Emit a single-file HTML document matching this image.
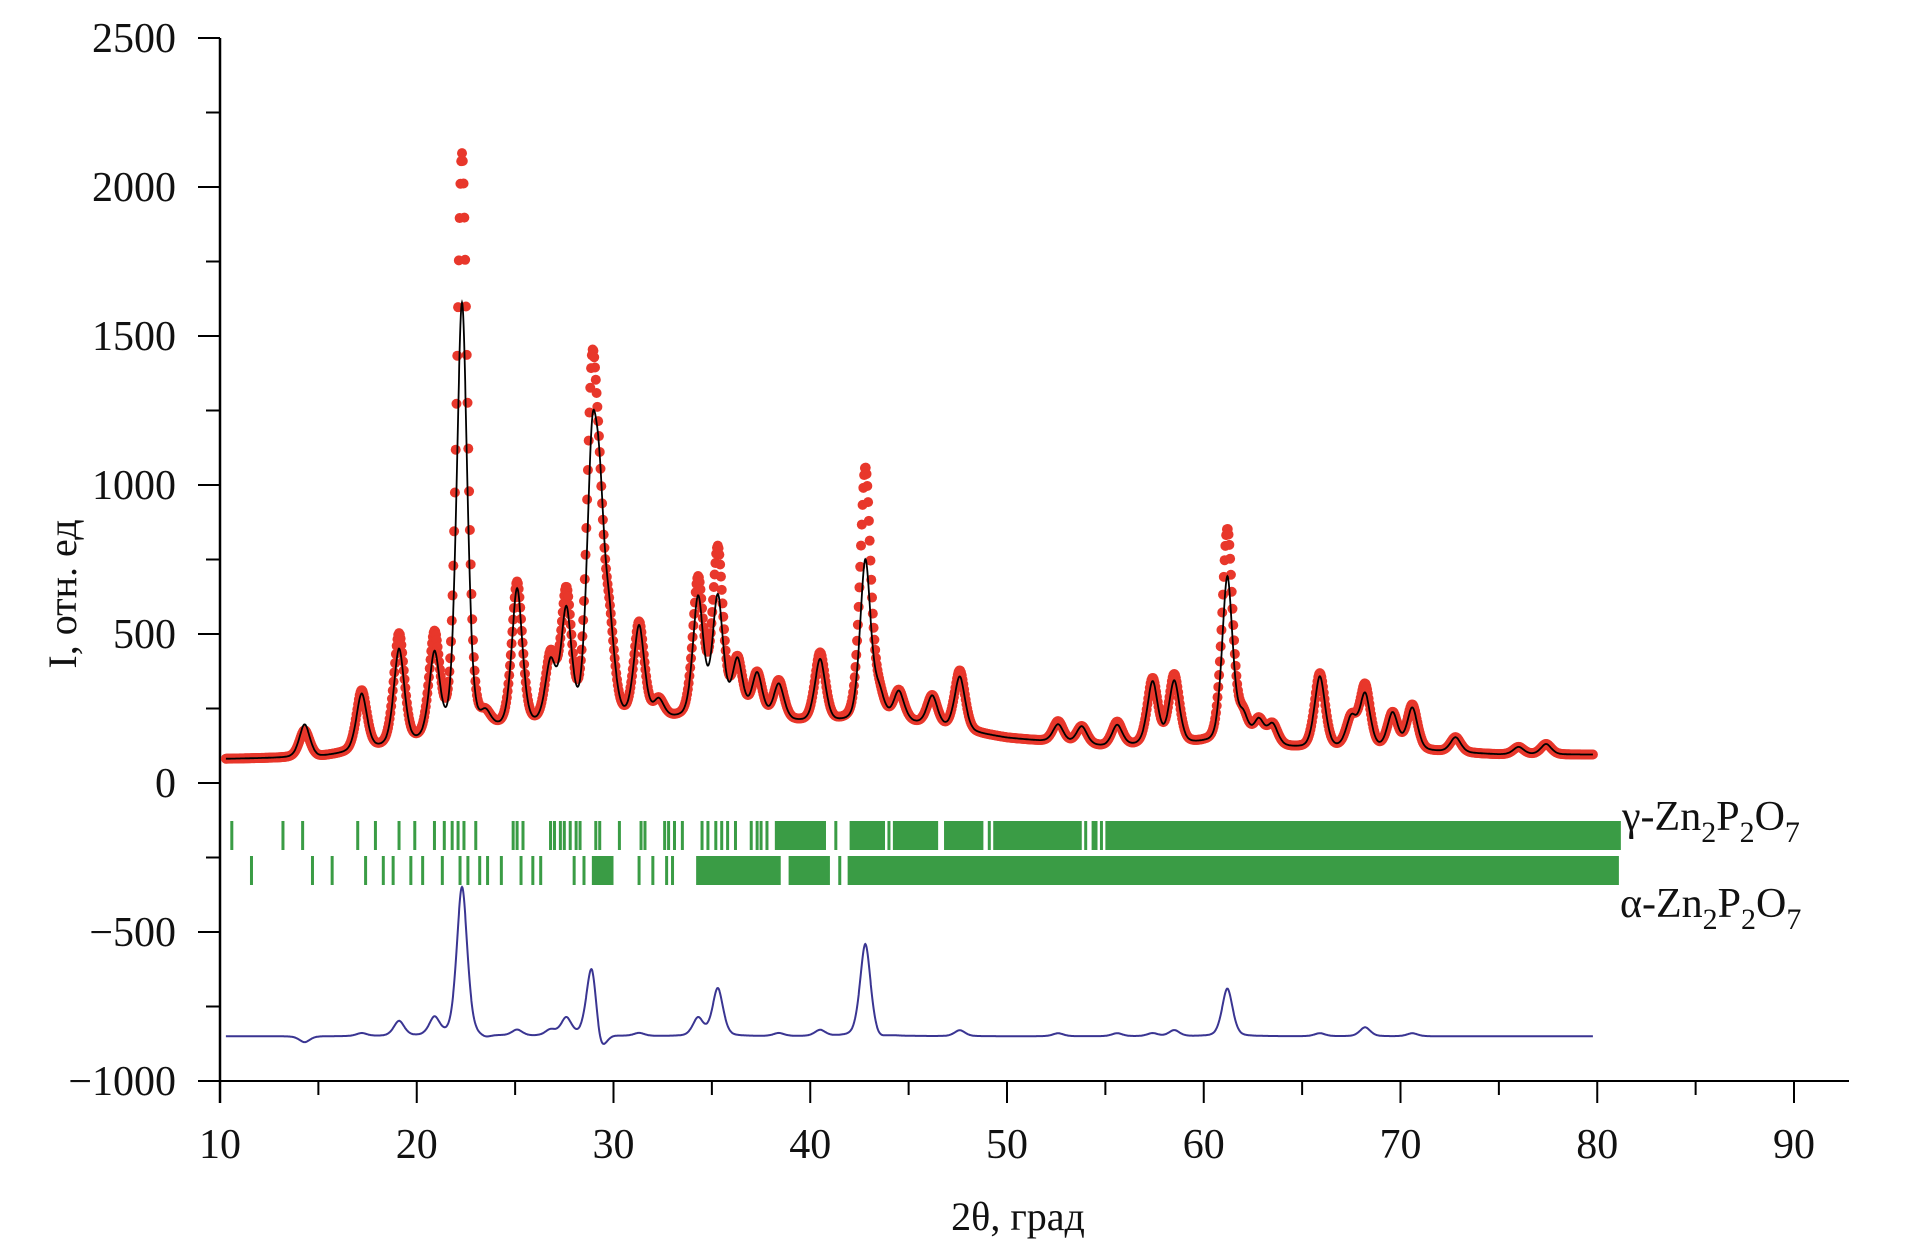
<!DOCTYPE html>
<html><head><meta charset="utf-8"><style>
html,body{margin:0;padding:0;background:#fff}
svg{display:block}
text{font-family:"Liberation Serif",serif;fill:#111}
</style></head><body>
<svg id="chart" width="1916" height="1256" viewBox="0 0 1916 1256" xmlns="http://www.w3.org/2000/svg">
<g id="axes"></g>
<g id="ticks-g"></g>
<g id="series"></g>
<text transform="translate(76,594) rotate(-90)" text-anchor="middle" font-size="40">I, отн. ед</text>
<text x="1018" y="1230" text-anchor="middle" font-size="40">2θ, град</text>
<text x="1622" y="830" font-size="42">γ-Zn<tspan font-size="30" dy="12">2</tspan><tspan dy="-12">P</tspan><tspan font-size="30" dy="12">2</tspan><tspan dy="-12">O</tspan><tspan font-size="30" dy="12">7</tspan></text>
<text x="1620" y="917" font-size="42">α-Zn<tspan font-size="30" dy="12">2</tspan><tspan dy="-12">P</tspan><tspan font-size="30" dy="12">2</tspan><tspan dy="-12">O</tspan><tspan font-size="30" dy="12">7</tspan></text>
</svg>
<script>
const xTicks = [10,20,30,40,50,60,70,80,90];
const yTicks = [2500,2000,1500,1000,500,0,-500,-1000];
const bgPos = [10,15,20,25,30,35,40,45,47,50,55,60,65,70,75,80];
const bgVal = [80,85,130,180,200,215,200,200,180,150,120,130,115,110,95,95];
const peakPos = [14.3,17.2,19.1,20.9,22.3,23.5,25.1,26.8,27.6,28.9,29.3,29.8,31.3,32.3,34.3,35.3,36.3,37.3,38.4,40.5,42.8,43.5,44.5,46.2,47.6,52.6,53.8,55.6,57.4,58.5,61.2,62.0,62.8,63.5,65.9,67.5,68.2,69.6,70.6,72.8,76.0,77.4];
const obsHeight = [90,200,370,340,1950,40,480,220,430,1050,480,260,320,60,460,560,190,150,130,230,850,80,100,100,200,70,60,80,220,230,720,90,80,70,250,100,210,120,150,50,25,35];
const calcHeight = [110,190,320,280,1450,50,460,200,370,800,560,260,310,60,400,400,190,150,120,210,540,90,100,100,180,60,60,70,210,210,560,90,80,70,240,100,180,120,140,50,25,35];
const gammaTicks = [10.6,13.2,14.2,17.0,17.9,19.1,19.9,20.9,21.4,21.8,22.1,22.4,23.0,24.9,25.1,25.4,26.8,27.0,27.3,27.5,27.8,28.1,28.3,29.1,29.3,30.3,31.4,31.6,32.6,32.8,33.1,33.5,34.5,34.8,35.2,35.5,35.8,36.2,37.0,37.3,37.5,37.8,41.3,44.0,49.1,54.0,54.8];
const gammaBlocks = [[38.2,40.8],[42.0,43.8],[44.2,46.5],[46.8,48.8],[49.3,53.8],[54.3,54.6],[55.0,81.2]];
const alphaTicks = [11.6,14.7,15.7,17.4,18.3,18.8,19.7,20.3,21.3,22.2,22.6,23.2,23.6,24.3,25.3,25.9,26.3,28.0,28.5,31.3,32.0,32.7,33.0,41.5];
const alphaBlocks = [[28.9,30.0],[34.2,38.5],[38.9,41.0],[41.9,81.1]];
const diffOffset = -850;

const NS="http://www.w3.org/2000/svg";
const X0=220, XS=19.675, Y0=38, YS=149/500;
const xs=v=>X0+(v-10)*XS;
const ys=v=>Y0+(2500-v)*YS;
function mk(tag,attrs,parent){const e=document.createElementNS(NS,tag);for(const k in attrs)e.setAttribute(k,attrs[k]);parent.appendChild(e);return e;}
const axes=document.getElementById('axes');
let e=mk('line',{x1:X0,y1:ys(2500),x2:X0,y2:ys(-1000)+22,stroke:'#000','stroke-width':2.5},axes);


e=mk('line',{x1:X0-22,y1:ys(-1000),x2:1849,y2:ys(-1000),stroke:'#000','stroke-width':2},axes);


yTicks.forEach(v=>{
  mk('line',{x1:X0-22,x2:X0,y1:ys(v),y2:ys(v),stroke:'#000','stroke-width':2},axes);
  if(v>-1000) mk('line',{x1:X0-14,x2:X0,y1:ys(v-250),y2:ys(v-250),stroke:'#000','stroke-width':2},axes);
  const t=mk('text',{x:176,y:ys(v)+14,'text-anchor':'end','font-size':42},axes);
  t.textContent=(v<0?'\u2212'+(-v):v);
  
  
});
xTicks.forEach(v=>{
  mk('line',{x1:xs(v),x2:xs(v),y1:ys(-1000),y2:ys(-1000)+22,stroke:'#000','stroke-width':2},axes);
  if(v<90) mk('line',{x1:xs(v+5),x2:xs(v+5),y1:ys(-1000),y2:ys(-1000)+14,stroke:'#000','stroke-width':2},axes);
  const t=mk('text',{x:xs(v),y:1158,'text-anchor':'middle','font-size':42},axes);
  t.textContent=v;
  
  
});
function bg(x){for(let i=0;i<bgPos.length-1;i++){if(x<=bgPos[i+1]){const f=(x-bgPos[i])/(bgPos[i+1]-bgPos[i]);return bgVal[i]+f*(bgVal[i+1]-bgVal[i]);}}return bgVal[bgVal.length-1];}
function prof(x,h){let s=bg(x);for(let i=0;i<peakPos.length;i++){const d=(x-peakPos[i])/0.28;s+=h[i]*(0.65*Math.exp(-d*d/2)+0.35/(1+d*d));}return s;}
const series=document.getElementById('series');
const tg=document.getElementById('ticks-g');
const G='#3a9c45';
function rowTicks(arr,blocks,y0,y1,name){
  arr.forEach(p=>{const r=mk('rect',{x:xs(p)-1.5,y:y0,width:3,height:y1-y0,fill:G},tg);});
  blocks.forEach(b=>{const r=mk('rect',{x:xs(b[0]),y:y0,width:xs(b[1])-xs(b[0]),height:y1-y0,fill:G},tg);});
}
rowTicks(gammaTicks,gammaBlocks,821,850,'gamma-reflection');
rowTicks(alphaTicks,alphaBlocks,856,885,'alpha-reflection');
const obsG=mk('g',{fill:'#e8372b'},series);


for(let x=10.3;x<=79.8;x+=0.04){mk('circle',{cx:xs(x),cy:ys(prof(x,obsHeight)),r:5},obsG);}
let dc='',dd='';
for(let x=10.3;x<=79.8;x+=0.02){
  const o=prof(x,obsHeight),c=prof(x,calcHeight);
  dc+=(dc?'L':'M')+xs(x).toFixed(1)+','+ys(c).toFixed(1);
  dd+=(dd?'L':'M')+xs(x).toFixed(1)+','+ys(o-c+diffOffset).toFixed(1);
}
e=mk('path',{d:dc,fill:'none',stroke:'#000','stroke-width':1.8},series);


e=mk('path',{d:dd,fill:'none',stroke:'#3a3592','stroke-width':2},series);


</script>
</body></html>
